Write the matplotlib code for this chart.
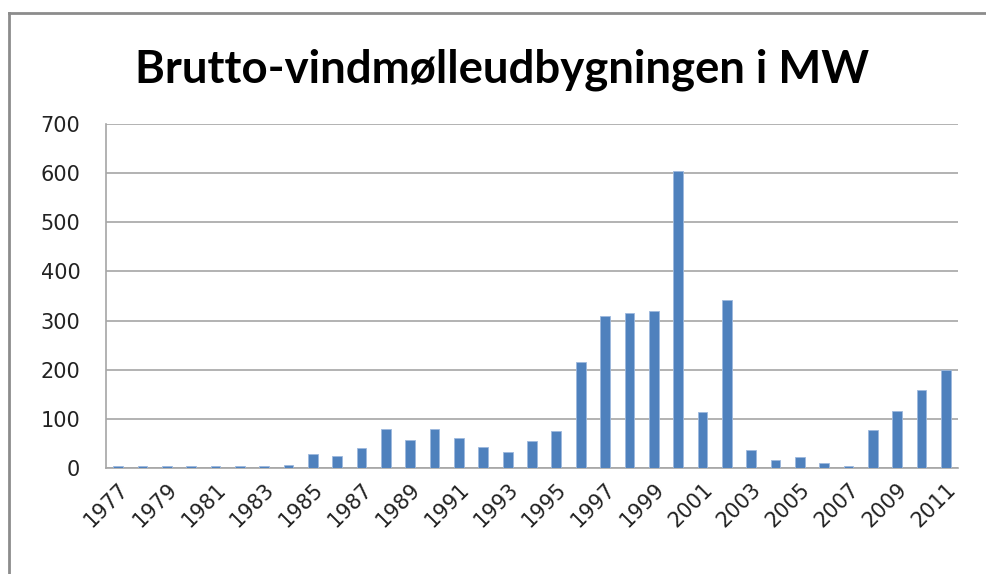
import matplotlib
matplotlib.use("Agg")
import matplotlib.pyplot as plt
from matplotlib.lines import Line2D

years = list(range(1977, 2012))
mw = [3, 3, 3, 3, 3, 3, 3, 6, 27, 24, 40, 79, 56, 79, 60, 42, 32, 54, 74,
      215, 310, 315, 320, 605, 113, 341, 37, 16, 21, 10, 3, 76, 115, 158, 200]
yticks = [0, 100, 200, 300, 400, 500, 600, 700]
title = "Brutto-vindmølleudbygningen i MW"

W, H = 986, 574
fig = plt.figure(figsize=(W / 100, H / 100), dpi=100)
fig.patch.set_facecolor("white")

# outer chart border (top and left edges visible)
bx, by = 9 / W, 1 - 12.5 / H
fig.add_artist(Line2D([bx, 1.0], [by, by], transform=fig.transFigure,
                      color="#8c8c8c", linewidth=2))
fig.add_artist(Line2D([bx, bx], [0.0, by], transform=fig.transFigure,
                      color="#8c8c8c", linewidth=2))

ax = fig.add_axes([106 / W, 1 - 467.7 / H, (958 - 106) / W, (467.7 - 124.3) / H])
x = list(range(len(years)))
ax.bar(x, mw, width=0.4, color="#4f81bd", edgecolor="#9db8dd", linewidth=0.6, zorder=3)
ax.set_xlim(-0.5, len(years) - 0.5)
ax.set_ylim(0, 700)
ax.set_yticks(yticks)
ax.set_yticklabels([str(v) for v in yticks], fontsize=15, color="#222222")
ax.yaxis.grid(True, color="#a6a6a6", linewidth=1.2, zorder=0)
ax.set_axisbelow(True)
ax.tick_params(axis="y", length=0, pad=18.5)
ax.tick_params(axis="x", length=0, pad=8)
ax.set_xticks(x[::2])
ax.set_xticklabels([str(y) for y in years[::2]], rotation=45, ha="right",
                   rotation_mode="anchor", fontsize=15, color="#222222")
for s in ["top", "right"]:
    ax.spines[s].set_visible(False)
for s in ["left", "bottom"]:
    ax.spines[s].set_color("#a6a6a6")
    ax.spines[s].set_linewidth(1.2)

fig.text(502 / W, 1 - 70 / H, title, ha="center", va="center",
         fontsize=32.8, fontweight="bold", family="Lato", color="black")

fig.savefig("out.png", dpi=100, facecolor="white")
